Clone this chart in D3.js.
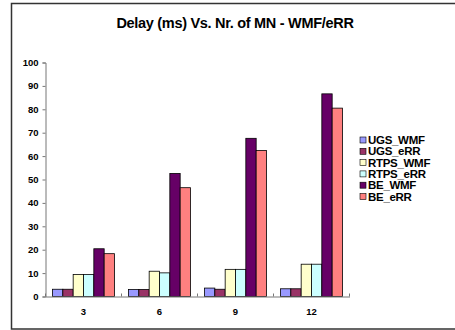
<!DOCTYPE html>
<html>
<head>
<meta charset="utf-8">
<script src="https://cdn.jsdelivr.net/npm/d3@7"></script>
<style>
  body { margin: 0; background: #fff; }
  text { font-family: "Liberation Sans", Arial, sans-serif; font-weight: bold; }
</style>
</head>
<body>
<div id="chart"></div>
<script>
// data
const categories = ["3", "6", "9", "12"];
const seriesNames = ["UGS_WMF", "UGS_eRR", "RTPS_WMF", "RTPS_eRR", "BE_WMF", "BE_eRR"];
const ugsWmf = [3.1, 3.0, 3.6, 3.3];
const ugsErr = [3.1, 3.0, 3.1, 3.3];
const rtpsWmf = [9.4, 10.8, 11.6, 13.8];
const rtpsErr = [9.4, 10.1, 11.6, 13.8];
const beWmf = [20.4, 52.6, 67.6, 86.6];
const beErr = [18.3, 46.5, 62.4, 80.5];
const yTicks = [0, 10, 20, 30, 40, 50, 60, 70, 80, 90, 100];

const seriesValues = [ugsWmf, ugsErr, rtpsWmf, rtpsErr, beWmf, beErr];
const colors = ["#9999FF", "#993366", "#FFFFCC", "#CCFFFF", "#660066", "#FF8080"];

const W = 455, H = 330;
const plot = { left: 45.5, right: 349.5, top: 62.5, bottom: 296.5 };

const svg = d3.select("#chart").append("svg")
  .attr("width", W).attr("height", H);

// outer frame
svg.append("rect")
  .attr("x", 11.5).attr("y", 3.5)
  .attr("width", W).attr("height", 325.5)
  .attr("fill", "#fff")
  .attr("stroke", "#333").attr("stroke-width", 1.5);

svg.append("text")
  .attr("x", 235).attr("y", 28)
  .attr("text-anchor", "middle")
  .style("font-size", "14.5px")
  .style("letter-spacing", "-0.3px")
  .text("Delay (ms) Vs. Nr. of MN - WMF/eRR");

const x = d3.scaleBand().domain(categories).range([plot.left, plot.right]).padding(0);
const xs = d3.scaleBand().domain(seriesNames).range([7, x.bandwidth() - 7]).padding(0);
const y = d3.scaleLinear().domain([0, 100]).range([plot.bottom, plot.top]);

// bars
seriesNames.forEach((name, si) => {
  svg.append("g").selectAll("rect")
    .data(categories.map((c, i) => ({ c, v: seriesValues[si][i] })))
    .enter().append("rect")
    .attr("x", d => x(d.c) + xs(name))
    .attr("y", d => y(d.v))
    .attr("width", xs.bandwidth())
    .attr("height", d => y(0) - y(d.v))
    .attr("fill", colors[si])
    .attr("stroke", "#000")
    .attr("stroke-width", 0.8);
});

// y axis
const yAxis = svg.append("g")
  .attr("transform", `translate(${plot.left},0)`)
  .call(d3.axisLeft(y).tickValues(yTicks).tickSize(3).tickPadding(4));
yAxis.selectAll("text").style("font-size", "9.5px").attr("fill", "#000");
yAxis.selectAll("line, path").attr("stroke", "#777");

// x axis
const xAxis = svg.append("g")
  .attr("transform", `translate(0,${plot.bottom})`)
  .call(d3.axisBottom(x).tickSize(0).tickPadding(12).tickSizeOuter(0));
xAxis.selectAll("text").style("font-size", "9.5px").attr("fill", "#000");
xAxis.select("path").attr("stroke", "#777");
// tick marks between categories
xAxis.selectAll(".sep")
  .data(categories)
  .enter().append("line")
  .attr("x1", d => x(d) + x.bandwidth()).attr("x2", d => x(d) + x.bandwidth())
  .attr("y1", 0).attr("y2", -3)
  .attr("stroke", "#777");
xAxis.append("line")
  .attr("x1", plot.left).attr("x2", plot.left).attr("y1", 0).attr("y2", -3)
  .attr("stroke", "#777");

// legend
const legend = svg.append("g").attr("transform", "translate(360,140)");
seriesNames.forEach((name, i) => {
  const g = legend.append("g").attr("transform", `translate(0,${i * 11.3})`);
  g.append("rect")
    .attr("x", 0).attr("y", -3).attr("width", 6).attr("height", 6)
    .attr("fill", colors[i]).attr("stroke", "#000").attr("stroke-width", 0.6);
  g.append("text")
    .attr("x", 8).attr("y", 4)
    .style("font-size", "11.5px")
    .style("letter-spacing", "-0.3px")
    .text(name);
});
</script>
</body>
</html>
